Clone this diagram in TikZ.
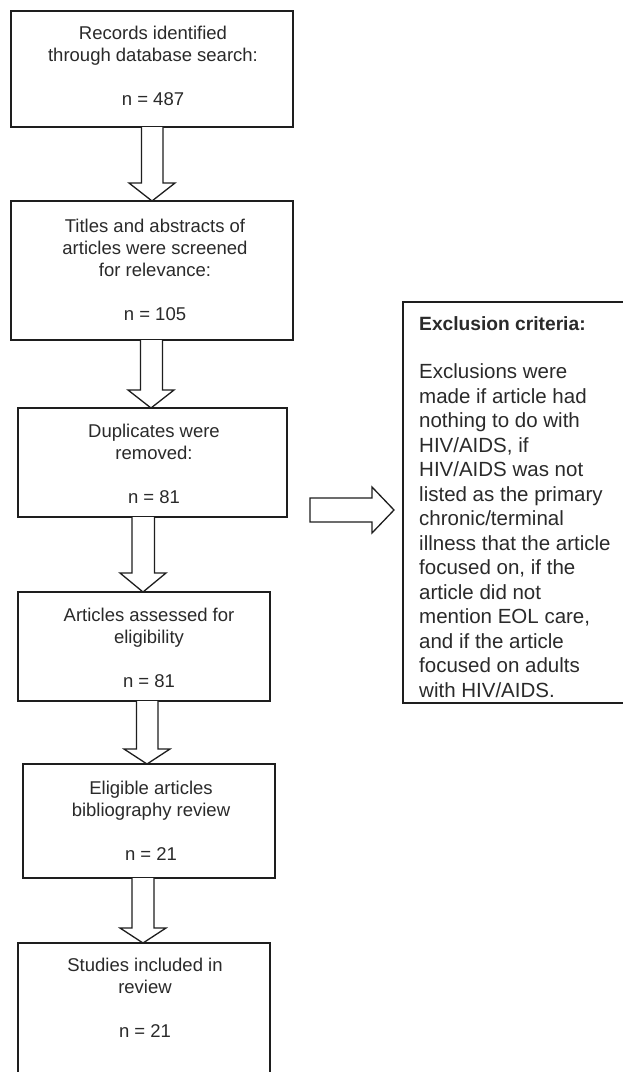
\documentclass[tikz,border=0pt]{standalone}
\usepackage{fontspec}
\setmainfont{Liberation Sans}
\usetikzlibrary{calc}
\definecolor{linec}{HTML}{1E1E1E}
\definecolor{textc}{HTML}{2A2A2A}
\begin{document}
\begin{tikzpicture}[x=1pt,y=1pt,
  box/.style={draw=linec, line width=1.3pt, fill=white, inner sep=0pt, outer sep=0pt, anchor=north west},
  txt/.style={text=textc, inner sep=0pt, align=center, anchor=base, font=\fontsize{18.5}{22}\selectfont},
  rtxt/.style={text=textc, inner sep=0pt, align=left, anchor=base west, font=\fontsize{20.5}{24.5}\selectfont},
  barrow/.style={draw=linec, line width=1.3pt, fill=white, line join=miter}
]
\useasboundingbox (0,0) rectangle (623,-1072);
\clip (0,0) rectangle (623,-1072);
\fill[white] (0,0) rectangle (623,-1072);

% boxes
\node[box, minimum width=282, minimum height=116] (b1) at (11,-11) {};
\node[box, minimum width=282, minimum height=139] (b2) at (11,-201) {};
\node[box, minimum width=269, minimum height=109] (b3) at (18,-408) {};
\node[box, minimum width=252, minimum height=109] (b4) at (18,-592) {};
\node[box, minimum width=252, minimum height=114] (b5) at (23,-764) {};
\node[box, minimum width=252, minimum height=140] (b6) at (18,-943) {};
\node[box, minimum width=240, minimum height=401] (b7) at (403,-302) {};

% texts (anchored at the baseline of the last line)
\node[txt] (t1) at (153,-105) {Records identified\\through database search:\\[22pt]n = 487};
\node[txt] (t2) at (155,-320) {Titles and abstracts of\\articles were screened\\for relevance:\\[22pt]n = 105};
\node[txt] (t3) at (154,-503) {Duplicates were\\removed:\\[22pt]n = 81};
\node[txt] (t4) at (149,-687) {Articles assessed for\\eligibility\\[22pt]n = 81};
\node[txt] (t5) at (151,-860) {Eligible articles\\bibliography review\\[22pt]n = 21};
\node[txt] (t6) at (145,-1037) {Studies included in\\review\\[22pt]n = 21};
\node[rtxt] (t7) at (419,-697) {{\fontsize{19.2}{24.5}\selectfont\bfseries Exclusion criteria:}\\[24pt]Exclusions were\\made if article had\\nothing to do with\\HIV/AIDS, if\\HIV/AIDS was not\\listed as the primary\\chronic/terminal\\illness that the article\\focused on, if the\\article did not\\mention EOL care,\\and if the article\\focused on adults\\with HIV/AIDS.};

% block arrows down
\draw[barrow] let \p1=(b1.south), \p2=(b2.north) in
  (141.5,\y1) -- (141.5,\y2+18) -- (129,\y2+18) -- (152,\y2) -- (175,\y2+18) -- (163,\y2+18) -- (163,\y1);
\draw[barrow] let \p1=(b2.south), \p2=(b3.north) in
  (140.5,\y1) -- (140.5,\y2+18) -- (128,\y2+18) -- (151,\y2) -- (174,\y2+18) -- (162.5,\y2+18) -- (162.5,\y1);
\draw[barrow] let \p1=(b3.south), \p2=(b4.north) in
  (132,\y1) -- (132,\y2+19) -- (120,\y2+19) -- (143,\y2) -- (166,\y2+19) -- (154.5,\y2+19) -- (154.5,\y1);
\draw[barrow] let \p1=(b4.south), \p2=(b5.north) in
  (136.5,\y1) -- (136.5,\y2+15) -- (124,\y2+15) -- (147,\y2) -- (170,\y2+15) -- (158,\y2+15) -- (158,\y1);
\draw[barrow] let \p1=(b5.south), \p2=(b6.north) in
  (132,\y1) -- (132,\y2+15) -- (120,\y2+15) -- (143,\y2) -- (166,\y2+15) -- (154,\y2+15) -- (154,\y1);

% right block arrow
\coordinate (ra) at (310,-510);
\coordinate (rtip) at (394,-510);
\draw[barrow] let \p1=(ra), \p2=(rtip) in
  (\x1,\y1+12) -- (\x2-22,\y1+12) -- (\x2-22,\y1+23) -- (\x2,\y1) -- (\x2-22,\y1-23) -- (\x2-22,\y1-12) -- (\x1,\y1-12) -- cycle;
\end{tikzpicture}
\end{document}
